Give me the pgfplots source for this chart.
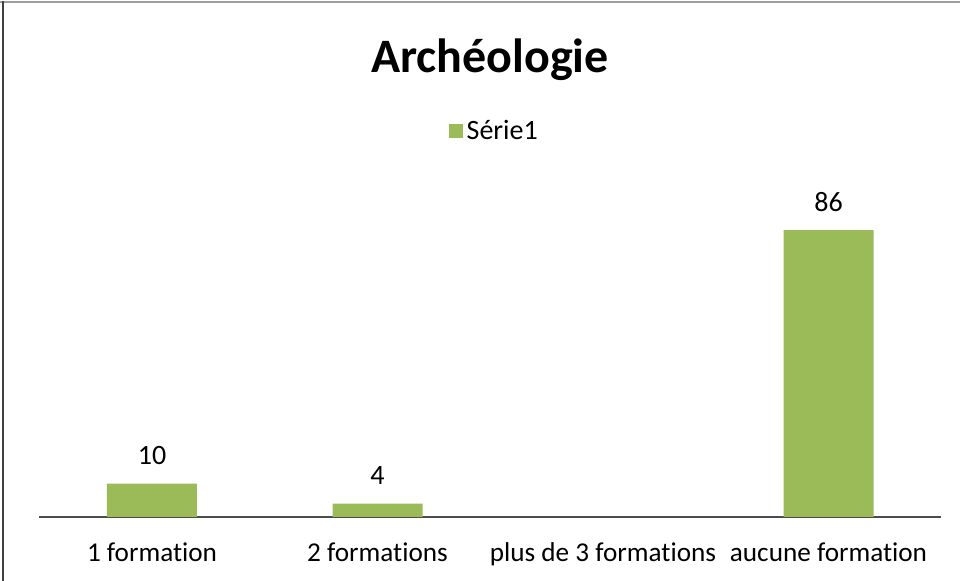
\documentclass[border=0pt]{standalone}
\usepackage{pgfplots}
\pgfplotsset{compat=1.18}
\usepackage{fontspec}
\setmainfont{Carlito}[Ligatures=NoCommon]
\definecolor{bargreen}{HTML}{9BBB59}

\begin{document}
\begin{tikzpicture}
% page: 960x581 px at 0.5pt per px
\path[use as bounding box] (0,0) rectangle (480pt,290.5pt);
\draw[line width=1pt, gray!75] (0,289.5pt) -- (480pt,289.5pt);
\draw[line width=1.1pt, black!75] (1.4pt,0) -- (1.4pt,290pt);
\node[anchor=base, font=\fontsize{24}{28}\selectfont\bfseries] at (245pt,254pt) {Archéologie};
\begin{axis}[
    at={(76pt,32pt)}, anchor=origin,
    x=112.75pt, y=1.6685pt,
    xmin=-0.5, xmax=3.5,
    ymin=0, ymax=100,
    axis x line=bottom, axis y line=none,
    x axis line style={-, line width=0.9pt, black!70},
    xtick={0,1,2,3},
    xticklabels={1 formation, 2 formations, plus de 3 formations, aucune formation},
    major tick length=0pt,
    xticklabel style={anchor=base, yshift=-22.5pt, font=\fontsize{13.6}{16}\selectfont},
    ytick=\empty,
    clip=false,
    /pgf/number format/assume math mode=true,
    legend style={at={(0.5055,1.157)}, anchor=center, draw=none,
        font=\fontsize{14}{16}\selectfont, inner sep=0pt},
    legend image code/.code={\fill[bargreen] (0pt,-3.5pt) rectangle (7pt,3.5pt);},
]
\addplot[ybar, bar width=45pt, fill=bargreen, draw=none,
    nodes near coords,
    every node near coord/.append style={anchor=base, yshift=9.5pt, black, font=\fontsize{14}{16}\selectfont}]
    coordinates {(0,10) (1,4) (3,86)};
\addlegendentry{Série1}
\end{axis}
\end{tikzpicture}
\end{document}
